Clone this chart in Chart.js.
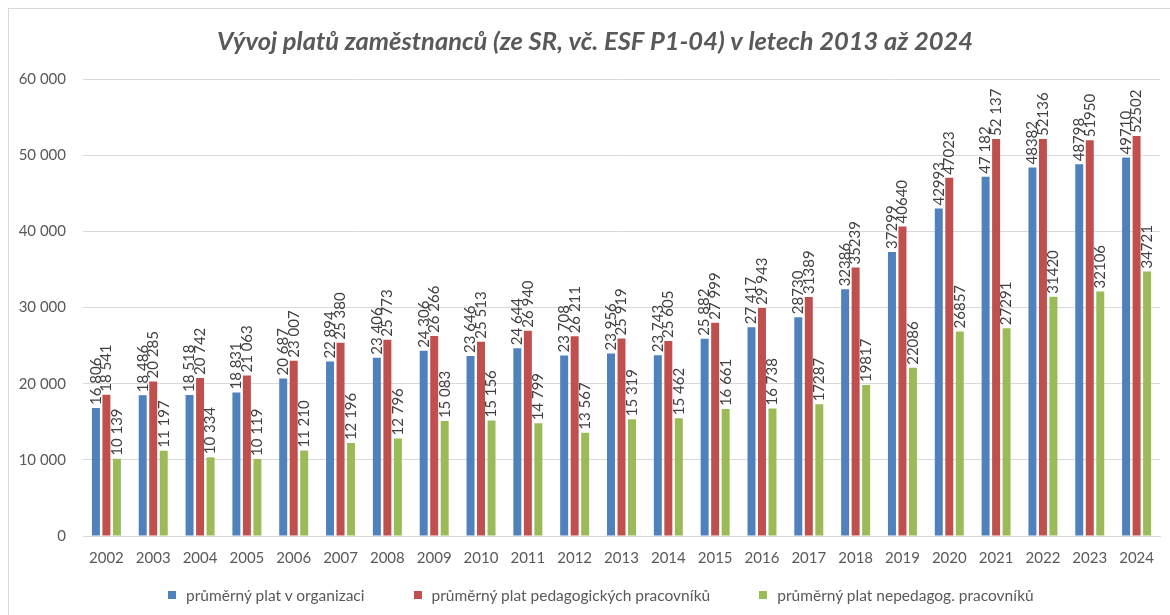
<!DOCTYPE html>
<html>
<head>
<meta charset="utf-8">
<script src="https://cdn.jsdelivr.net/npm/chart.js@4/dist/chart.umd.min.js"></script>
<style>
    html, body { margin: 0; padding: 0; background: #fff; }
    #wrap { position: relative; width: 1170px; height: 615px; }
    #frame { position: absolute; left: 8px; top: 8px; right: 0; bottom: 0;
             border-left: 1px solid #d9d9d9; border-top: 1px solid #d9d9d9; }
    canvas { position: absolute; left: 0; top: 0; }
    #legend { position: absolute; left: 168px; top: 585px; height: 20px;
              display: flex; align-items: center; gap: 49px;
              font: 15.5px Lato, "Open Sans", sans-serif; color: #595959; white-space: nowrap; }
    #legend .item { display: flex; align-items: center; }
    #legend .box { width: 8px; height: 8px; margin-right: 10px; }
</style>
</head>
<body>
<div id="wrap">
    <div id="frame"></div>
    <canvas id="chart1" width="1170" height="615"></canvas>
    <div id="legend"></div>
</div>
<script>
const chartTitle = 'Vývoj platů zaměstnanců (ze SR, vč. ESF P1-04) v letech 2013 až 2024';

const years = ['2002', '2003', '2004', '2005', '2006', '2007', '2008', '2009', '2010', '2011', '2012',
    '2013', '2014', '2015', '2016', '2017', '2018', '2019', '2020', '2021', '2022', '2023', '2024'];

const avgAll = [16806, 18486, 18518, 18831, 20687, 22894, 23406, 24306, 23646, 24644, 23708, 23956,
    23743, 25882, 27417, 28730, 32386, 37299, 42993, 47182, 48382, 48798, 49710];
const avgPed = [18541, 20285, 20742, 21063, 23007, 25380, 25773, 26266, 25513, 26940, 26211, 25919,
    25605, 27999, 29943, 31389, 35239, 40640, 47023, 52137, 52136, 51950, 52502];
const avgNonPed = [10139, 11197, 10334, 10119, 11210, 12196, 12796, 15083, 15156, 14799, 13567, 15319,
    15462, 16661, 16738, 17287, 19817, 22086, 26857, 27291, 31420, 32106, 34721];

// years whose labels are written with a thousands space in the source
const spacedYears = years.slice(0, 15);
const spacedYearsPed = spacedYears.concat(['2021']);

const yTicks = [0, 10000, 20000, 30000, 40000, 50000, 60000];

const FONT = 'Lato, "Open Sans", sans-serif';

function withSpace(v) {
    return String(v).replace(/\B(?=(\d{3})+(?!\d))/g, ' ');
}

const barLabels = {
    id: 'barLabels',
    afterDatasetsDraw(chart) {
        const ctx = chart.ctx;
        ctx.save();
        ctx.fillStyle = '#404040';
        ctx.font = '15px ' + FONT;
        ctx.textAlign = 'left';
        ctx.textBaseline = 'middle';
        chart.data.datasets.forEach((ds, di) => {
            const meta = chart.getDatasetMeta(di);
            meta.data.forEach((bar, i) => {
                const v = ds.data[i];
                const txt = ds.spaced.includes(years[i]) ? withSpace(v) : String(v);
                ctx.save();
                ctx.translate(bar.x, bar.y - 3);
                ctx.rotate(-Math.PI / 2);
                ctx.fillText(txt, 0, 0);
                ctx.restore();
            });
        });
        ctx.restore();
    }
};

// title sits a bit left of the plot centre in the source, so it is drawn by hand
const titleDraw = {
    id: 'titleDraw',
    afterDraw(chart) {
        const ctx = chart.ctx;
        ctx.save();
        ctx.fillStyle = '#595959';
        ctx.font = 'italic bold 25.5px ' + FONT;
        ctx.textAlign = 'center';
        ctx.textBaseline = 'middle';
        ctx.fillText(chartTitle, 595, 42);
        ctx.restore();
    }
};

const ctx1 = document.getElementById('chart1').getContext('2d');
const chart = new Chart(ctx1, {
    type: 'bar',
    data: {
        labels: years,
        datasets: [{
            label: 'průměrný plat v organizaci',
            backgroundColor: '#4f81bd',
            data: avgAll,
            spaced: spacedYearsPed
        },
        {
            label: 'průměrný plat pedagogických pracovníků',
            backgroundColor: '#c0504d',
            data: avgPed,
            spaced: spacedYearsPed
        },
        {
            label: 'průměrný plat nepedagog. pracovníků',
            backgroundColor: '#9bbb59',
            data: avgNonPed,
            spaced: spacedYears
        }]
    },
    plugins: [barLabels, titleDraw],
    options: {
        responsive: false,
        animation: false,
        datasets: {
            bar: { categoryPercentage: 0.673, barPercentage: 0.76 }
        },
        layout: { padding: { left: 0, right: 10, top: 79, bottom: 35 } },
        plugins: {
            title: { display: false },
            legend: { display: false },
            tooltip: { enabled: false }
        },
        scales: {
            x: {
                grid: { display: false, drawTicks: false },
                border: { color: '#d9d9d9' },
                ticks: { color: '#595959', font: { family: FONT, size: 15 }, padding: 13, maxRotation: 0 }
            },
            y: {
                min: 0,
                max: 60000,
                afterFit(scale) { scale.width = 83; },
                afterBuildTicks(scale) { scale.ticks = yTicks.map(v => ({ value: v })); },
                grid: { color: '#d9d9d9', drawTicks: false },
                border: { display: false },
                ticks: {
                    color: '#595959',
                    font: { family: FONT, size: 15 },
                    padding: 17,
                    callback: (v) => withSpace(v)
                }
            }
        }
    }
});

// legend drawn as HTML so the wide item spacing does not eat plot height
const legendElem = document.getElementById('legend');
chart.data.datasets.forEach(ds => {
    const item = document.createElement('div');
    item.className = 'item';
    item.innerHTML = `<span class="box" style="background:${ds.backgroundColor}"></span><span>${ds.label}</span>`;
    legendElem.appendChild(item);
});
</script>
</body>
</html>
